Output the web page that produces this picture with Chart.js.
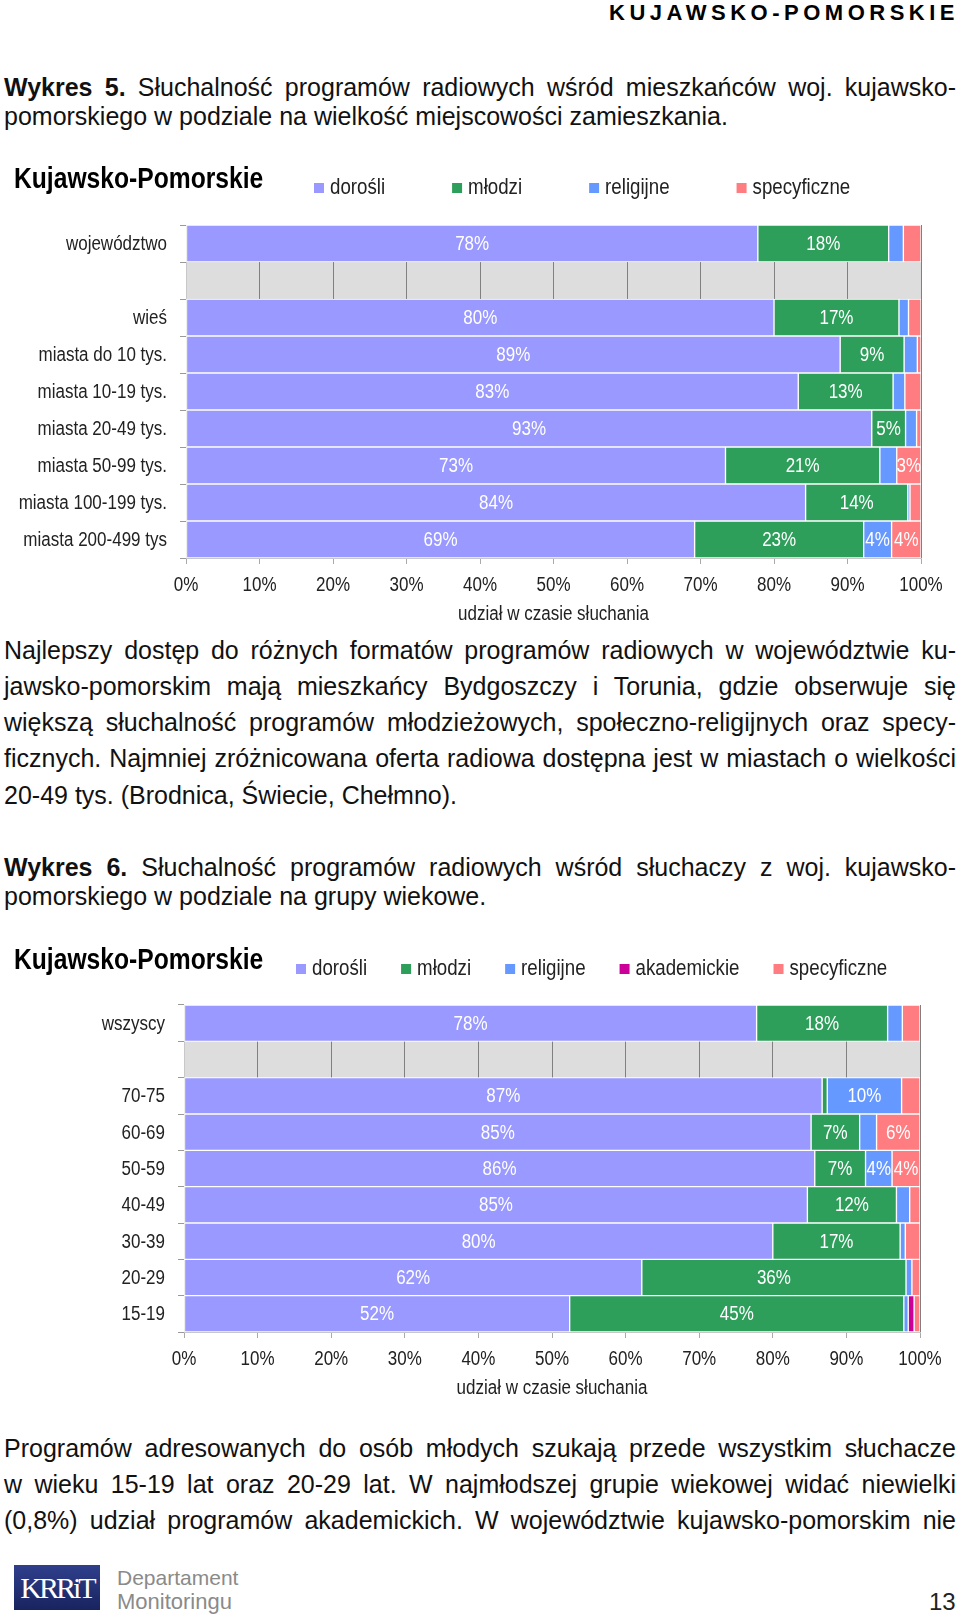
<!DOCTYPE html>
<html lang="pl">
<head>
<meta charset="utf-8">
<script src="https://cdn.jsdelivr.net/npm/chart.js@4.4.0/dist/chart.umd.min.js"></script>
<style>
  html, body { margin: 0; padding: 0; background: #fff; }
  body { width: 960px; height: 1618px; position: relative; overflow: hidden; font-family: "Liberation Sans", Arial, sans-serif; color: #111; }
  .ln { position: absolute; left: 4px; width: 952px; height: 30px; line-height: 30px; font-size: 25px; white-space: nowrap; }
  .j { text-align: justify; text-align-last: justify; }
  .hdr { position: absolute; top: 0; right: 1px; font-weight: bold; font-size: 22px; letter-spacing: 4.5px; line-height: 26px; color: #000; }
  .cv { position: absolute; left: 0; }
  .logo { position: absolute; left: 14px; top: 1565px; width: 86px; height: 45px; background: linear-gradient(#2f3f8c, #18245f); color: #fff; font-family: "Liberation Serif", serif; font-size: 30px; letter-spacing: -3px; line-height: 45px; text-align: center; }
  .dep { position: absolute; left: 117px; font-size: 21px; color: #8a8a8a; line-height: 24px; }
  .pg { position: absolute; left: 929px; top: 1588px; font-size: 24px; line-height: 28px; color: #222; }
</style>
</head>
<body>
<div class="hdr">KUJAWSKO-POMORSKIE</div>

<div class="ln j" style="top:72px"><b>Wykres 5.</b> Słuchalność programów radiowych wśród mieszkańców woj. kujawsko-</div>
<div class="ln" style="top:101px">pomorskiego w podziale na wielkość miejscowości zamieszkania.</div>

<div class="cv" style="top:155px"><canvas id="chart1" width="960" height="475"></canvas></div>

<div class="ln j" style="top:635px">Najlepszy dostęp do różnych formatów programów radiowych w województwie ku-</div>
<div class="ln j" style="top:671px">jawsko-pomorskim mają mieszkańcy Bydgoszczy i Torunia, gdzie obserwuje się</div>
<div class="ln j" style="top:707px">większą słuchalność programów młodzieżowych, społeczno-religijnych oraz specy-</div>
<div class="ln j" style="top:743px">ficznych. Najmniej zróżnicowana oferta radiowa dostępna jest w miastach o wielkości</div>
<div class="ln" style="top:780px">20-49 tys. (Brodnica, Świecie, Chełmno).</div>

<div class="ln j" style="top:852px"><b>Wykres 6.</b> Słuchalność programów radiowych wśród słuchaczy z woj. kujawsko-</div>
<div class="ln" style="top:881px">pomorskiego w podziale na grupy wiekowe.</div>

<div class="cv" style="top:930px"><canvas id="chart2" width="960" height="475"></canvas></div>

<div class="ln j" style="top:1433px">Programów adresowanych do osób młodych szukają przede wszystkim słuchacze</div>
<div class="ln j" style="top:1469px">w wieku 15-19 lat oraz 20-29 lat. W najmłodszej grupie wiekowej widać niewielki</div>
<div class="ln j" style="top:1505px">(0,8%) udział programów akademickich. W województwie kujawsko-pomorskim nie</div>

<div class="logo">KRRiT</div>
<div class="dep" style="top:1566px">Departament</div>
<div class="dep" style="top:1590px;font-size:22px">Monitoringu</div>
<div class="pg">13</div>

<script>
// Wykres 5 - wielkość miejscowości
const cats1 = ['województwo', '', 'wieś', 'miasta do 10 tys.', 'miasta 10-19 tys.', 'miasta 20-49 tys.', 'miasta 50-99 tys.', 'miasta 100-199 tys.', 'miasta 200-499 tys'];
const dorosli1 = [77.8, null, 80.0, 89.0, 83.3, 93.3, 73.4, 84.3, 69.2];
const mlodzi1 = [17.8, null, 17.0, 8.7, 12.9, 4.6, 21.0, 13.9, 23.0];
const religijne1 = [2.0, null, 1.3, 1.8, 1.6, 1.5, 2.3, 0.3, 3.8];
const specyficzne1 = [2.4, null, 1.7, 0.5, 2.2, 0.6, 3.3, 1.5, 4.0];

// Wykres 6 - grupy wiekowe
const cats2 = ['wszyscy', '', '70-75', '60-69', '50-59', '40-49', '30-39', '20-29', '15-19'];
const dorosli2 = [77.8, null, 86.7, 85.2, 85.7, 84.7, 80.0, 62.2, 52.4];
const mlodzi2 = [17.8, null, 0.7, 6.6, 6.9, 12.1, 17.3, 35.9, 45.4];
const religijne2 = [2.0, null, 10.1, 2.3, 3.6, 1.8, 0.7, 0.8, 0.6];
const akademickie2 = [null, null, null, null, null, null, null, null, 0.8];
const specyficzne2 = [2.4, null, 2.5, 5.9, 3.8, 1.4, 2.0, 1.1, 0.8];

const xTicks = [0, 10, 20, 30, 40, 50, 60, 70, 80, 90, 100];

const colors = {
    dorosli: '#9999ff',
    mlodzi: '#2e9e5b',
    religijne: '#6699ff',
    akademickie: '#cc0099',
    specyficzne: '#ff7c80'
};

// no Arial Narrow here, so squeeze Liberation Sans horizontally
const SQUEEZE = 0.85;
function narrowText(ctx, text, x, y, size, align, bold, color) {
    ctx.save();
    ctx.translate(x, y);
    ctx.scale(SQUEEZE, 1);
    ctx.font = (bold ? 'bold ' : '') + size + 'px "Liberation Sans", Arial, sans-serif';
    ctx.textAlign = align;
    ctx.textBaseline = 'middle';
    ctx.fillStyle = color;
    ctx.fillText(text, 0, 0);
    const w = ctx.measureText(text).width * SQUEEZE;
    ctx.restore();
    return w;
}

// gray separator row with the grid showing through
const gapRow = {
    id: 'gapRow',
    beforeDraw(chart) {
        const y = chart.scales.y;
        const area = chart.chartArea;
        const h = (y.bottom - y.top) / chart.data.labels.length;
        const ctx = chart.ctx;
        ctx.save();
        ctx.fillStyle = '#dddddd';
        chart.data.labels.forEach((lab, i) => {
            if (lab !== '') return;
            const c = y.getPixelForValue(i);
            ctx.fillRect(area.left, c - h / 2, area.right - area.left, h);
        });
        ctx.restore();
    }
};

// percent labels inside the bars
const barLabels = {
    id: 'barLabels',
    afterDatasetsDraw(chart) {
        const ctx = chart.ctx;
        chart.data.datasets.forEach((ds, di) => {
            chart.getDatasetMeta(di).data.forEach((bar, i) => {
                const v = ds.data[i];
                if (v == null || v < 3) return;
                const p = bar.getProps(['x', 'y', 'base'], true);
                narrowText(ctx, Math.round(v) + '%', (p.x + p.base) / 2, p.y + 1, 20, 'center', false, '#ffffff');
            });
        });
    }
};

// axis labels, title and legend in condensed type
const texts = {
    id: 'texts',
    afterDraw(chart, args, opts) {
        const ctx = chart.ctx;
        const xs = chart.scales.x;
        const ys = chart.scales.y;
        chart.data.labels.forEach((lab, i) => {
            if (lab === '') return;
            narrowText(ctx, lab, ys.right - 19, ys.getPixelForValue(i) + 1, 20, 'right', false, '#222');
        });
        xTicks.forEach(v => {
            narrowText(ctx, v + '%', xs.getPixelForValue(v), xs.top + 27, 20, 'center', false, '#222');
        });
        narrowText(ctx, 'udział w czasie słuchania', (xs.left + xs.right) / 2, xs.top + 56, 20, 'center', false, '#222');

        narrowText(ctx, opts.title, 14, opts.titleY, 29, 'left', true, '#000');
        let x = opts.legendX;
        chart.data.datasets.forEach(ds => {
            ctx.fillStyle = ds.backgroundColor;
            ctx.fillRect(x - 4, opts.legendY - 5, 10, 10);
            const w = narrowText(ctx, ds.label, x + 12, opts.legendY, 22, 'left', false, '#222');
            x += 12 + w + opts.gap;
        });
    }
};

function ds(label, data, color) {
    return {
        label: label,
        data: data,
        backgroundColor: color,
        borderColor: '#ffffff',
        borderWidth: 1,
        borderSkipped: false,
        barPercentage: 1,
        categoryPercentage: 1
    };
}

function makeChart(id, labels, datasets, cfg) {
    return new Chart(document.getElementById(id), {
        type: 'bar',
        data: { labels: labels, datasets: datasets },
        plugins: [gapRow, barLabels, texts],
        options: {
            indexAxis: 'y',
            responsive: false,
            animation: false,
            layout: { padding: { top: cfg.top, right: cfg.right, left: 0, bottom: 0 } },
            plugins: {
                legend: { display: false },
                tooltip: { enabled: false },
                texts: { title: 'Kujawsko-Pomorskie', titleY: cfg.titleY, legendY: cfg.legendY, legendX: cfg.legendX, gap: cfg.gap }
            },
            scales: {
                x: {
                    stacked: true,
                    min: 0,
                    max: 100,
                    afterBuildTicks: s => { s.ticks = xTicks.map(v => ({ value: v })); },
                    afterFit: s => { s.height = cfg.bottom; },
                    ticks: { color: 'rgba(0,0,0,0)', font: { size: 20 } },
                    grid: { color: '#808080', tickColor: '#aaaaaa', tickLength: 6 },
                    border: { color: '#c8c8c8' }
                },
                y: {
                    stacked: true,
                    afterFit: s => { s.width = cfg.left; },
                    ticks: { color: 'rgba(0,0,0,0)', font: { size: 20 }, autoSkip: false },
                    grid: { drawOnChartArea: false, color: '#999999', tickLength: 6, offset: true },
                    border: { color: '#c8c8c8' }
                }
            }
        }
    });
}

makeChart('chart1', cats1, [
    ds('dorośli', dorosli1, colors.dorosli),
    ds('młodzi', mlodzi1, colors.mlodzi),
    ds('religijne', religijne1, colors.religijne),
    ds('specyficzne', specyficzne1, colors.specyficzne)
], { top: 70, right: 39, bottom: 72, left: 186, titleY: 25, legendY: 33, legendX: 318, gap: 71 });

makeChart('chart2', cats2, [
    ds('dorośli', dorosli2, colors.dorosli),
    ds('młodzi', mlodzi2, colors.mlodzi),
    ds('religijne', religijne2, colors.religijne),
    ds('akademickie', akademickie2, colors.akademickie),
    ds('specyficzne', specyficzne2, colors.specyficzne)
], { top: 75, right: 40, bottom: 73, left: 184, titleY: 31, legendY: 39, legendX: 300, gap: 38 });
</script>
</body>
</html>
